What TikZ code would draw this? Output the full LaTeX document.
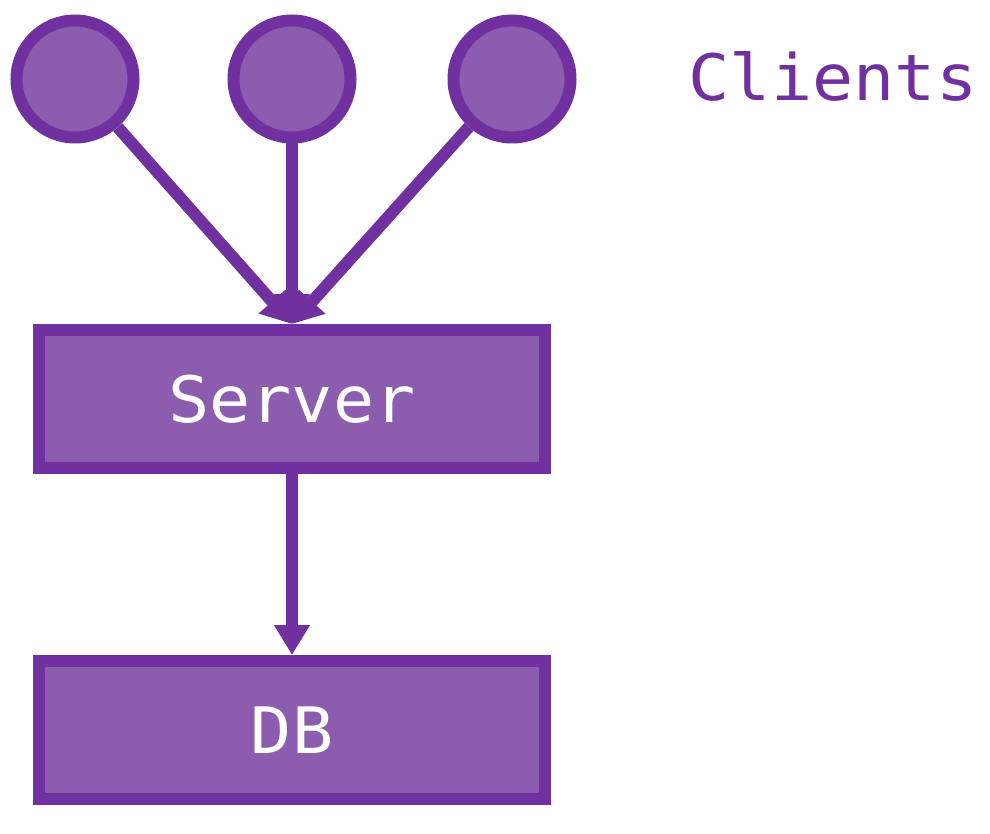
\documentclass[tikz,border=0pt]{standalone}
\usepackage{fontspec}
\newfontfamily\diagmono[FakeStretch=1.07]{DejaVu Sans Mono}
\usetikzlibrary{arrows.meta}
\definecolor{pstroke}{HTML}{7030A0}
\definecolor{pfill}{HTML}{8C5DAF}
\begin{document}
\begin{tikzpicture}[x=1pt,y=-1pt,
  client/.style={circle,draw=pstroke,fill=pfill,line width=12pt,minimum size=117pt,inner sep=0pt},
  boxnode/.style={rectangle,draw=pstroke,fill=pfill,line width=12pt,minimum width=506pt,minimum height=138pt,inner sep=0pt,
    text=white,font=\diagmono\fontsize{64}{72}\selectfont},
  label/.style={text=pstroke,font=\diagmono\fontsize{64}{72}\selectfont,inner sep=0pt},
  arr/.style={draw=pstroke,line width=12pt,-{Triangle[width=34pt,length=30pt]}}]
\useasboundingbox (0,0) rectangle (990,834);
\node[client] (c1) at (75,79) {};
\node[client] (c2) at (292,79) {};
\node[client] (c3) at (512,79) {};
\node[label] (clients) at (833,76) {Clients};
\node[boxnode] (server) at (292,399) {Server};
\node[boxnode] (db) at (292,730) {DB};
\draw[arr] (c1) -- (server.north);
\draw[arr] (c3) -- (server.north);
\draw[arr] (c2) -- (server.north);
\draw[arr] (server) -- (db);
\end{tikzpicture}
\end{document}
